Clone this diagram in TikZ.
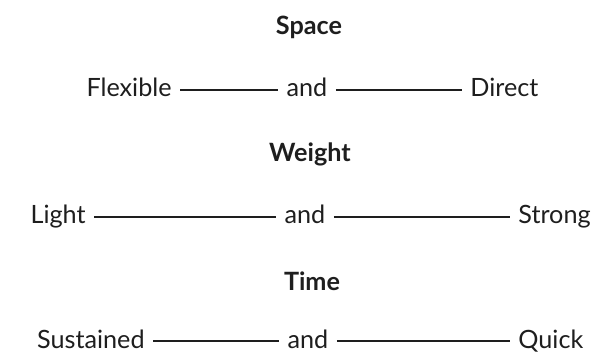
\documentclass[tikz,border=0pt]{standalone}
\usepackage{fontspec}
\setmainfont{Lato}
\usepackage{xcolor}
\usetikzlibrary{positioning}

\definecolor{inkgray}{HTML}{1E1E1E}

\begin{document}
\begin{tikzpicture}[
  x=0.5pt, y=-0.5pt,
  word/.style={inner xsep=4pt, inner ysep=1pt, text=inkgray,
    font=\fontsize{12.6}{15}\selectfont},
  heading/.style={word, font=\fontsize{12.6}{15}\selectfont\bfseries},
  link/.style={draw=inkgray, line width=0.8pt}
]
\useasboundingbox[fill=white] (0,0) rectangle (595,353);

\node[heading, anchor=base] (space) at (309,35) {Space};
\node[word, anchor=base east] (flexible) at (180,97) {Flexible};
\node[word, anchor=base] (and1) at (307,97) {and};
\node[word, anchor=base west] (direct) at (462,97) {Direct};

\node[heading, anchor=base] (weight) at (310,162) {Weight};
\node[word, anchor=base east] (light) at (94,224) {Light};
\node[word, anchor=base] (and2) at (305,224) {and};
\node[word, anchor=base west] (strong) at (510,224) {Strong};

\node[heading, anchor=base] (time) at (312,290) {Time};
\node[word, anchor=base east] (sustained) at (153,348) {Sustained};
\node[word, anchor=base] (and3) at (308,348) {and};
\node[word, anchor=base west] (quick) at (510,348) {Quick};

\draw[link] ([yshift=3.5pt]flexible.base east) -- ([yshift=3.5pt]and1.base west);
\draw[link] ([yshift=3.5pt]and1.base east) -- ([yshift=3.5pt]direct.base west);
\draw[link] ([yshift=3.5pt]light.base east) -- ([yshift=3.5pt]and2.base west);
\draw[link] ([yshift=3.5pt]and2.base east) -- ([yshift=3.5pt]strong.base west);
\draw[link] ([yshift=3.5pt]sustained.base east) -- ([yshift=3.5pt]and3.base west);
\draw[link] ([yshift=3.5pt]and3.base east) -- ([yshift=3.5pt]quick.base west);
\end{tikzpicture}
\end{document}
